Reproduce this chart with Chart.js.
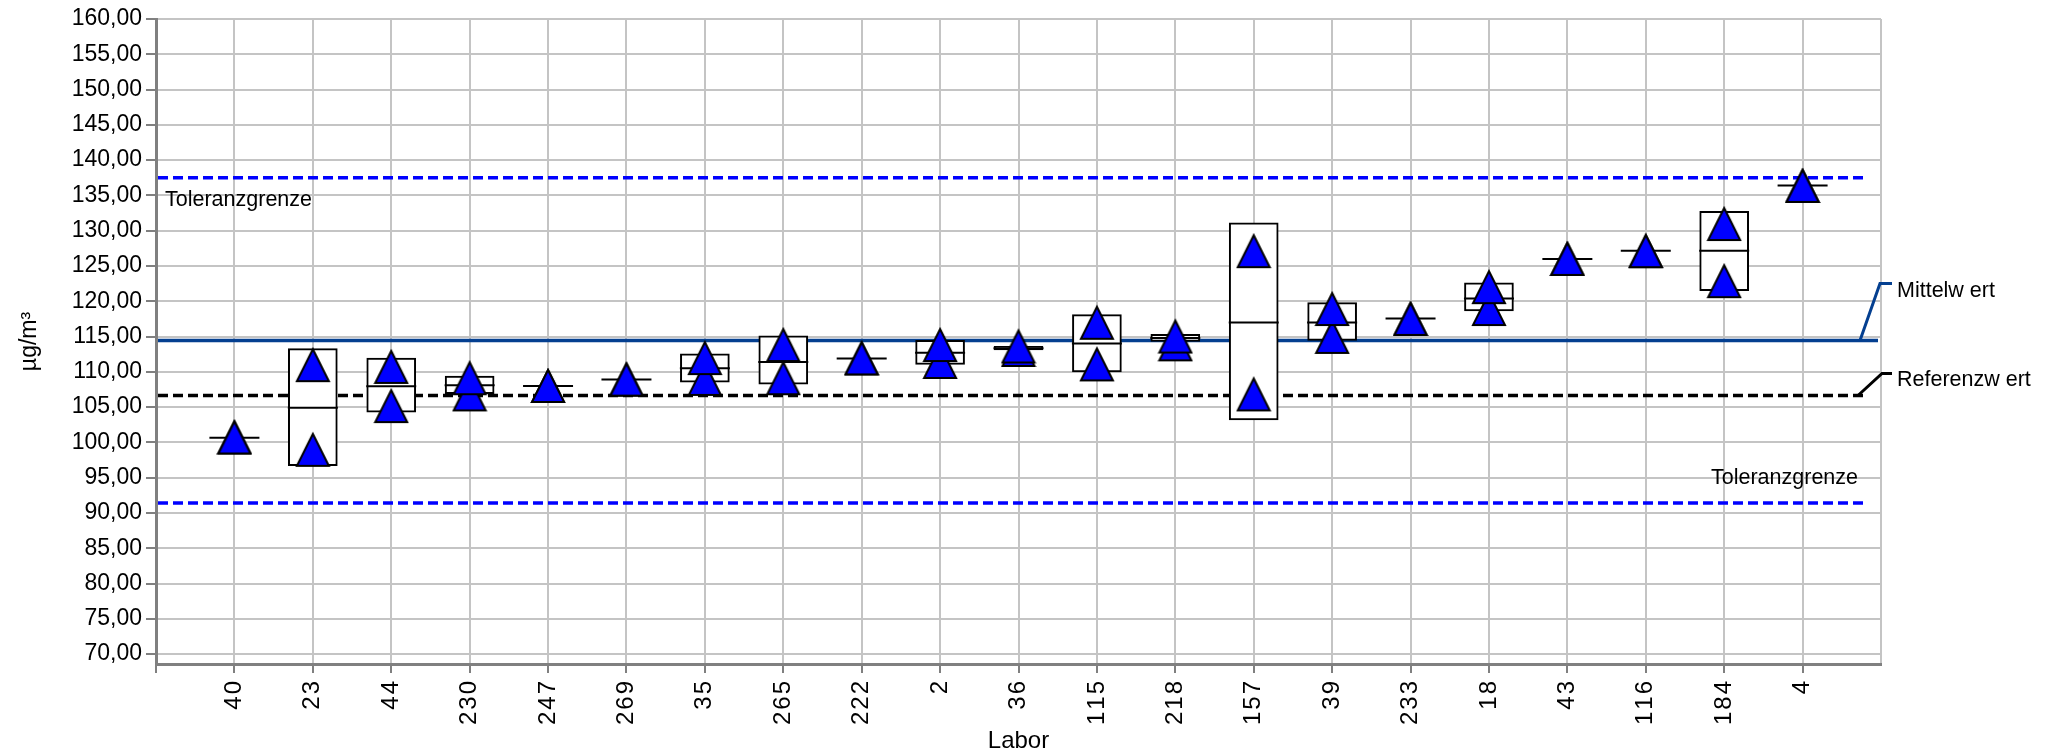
<!DOCTYPE html>
<html>
<head>
<meta charset="utf-8">
<script src="https://cdn.jsdelivr.net/npm/chart.js@4.4.0/dist/chart.umd.min.js"></script>
<style>
  html, body { margin: 0; padding: 0; background: #fff; }
</style>
</head>
<body>
<canvas id="myChart" width="2058" height="756"></canvas>
<script>
// Labore in der Reihenfolge der Achse
var labore = ['40', '23', '44', '230', '247', '269', '35', '265', '222', '2', '36',
              '115', '218', '157', '39', '233', '18', '43', '116', '184', '4'];

// Einzelwerte (zwei Messungen je Labor)
var wert1 = [100.7, 110.95, 110.7, 109.1, 108.0, 108.9, 111.95, 113.8, 111.9, 113.8, 113.6,
             116.95, 115.0, 127.1, 118.9, 117.5, 122.0, 126.0, 127.1, 130.95, 136.35];
var wert2 = [100.7, 98.95, 105.15, 106.8, 108.0, 108.9, 109.0, 109.1, 111.9, 111.4, 113.1,
             111.05, 113.9, 106.8, 114.95, 117.5, 118.9, 126.0, 127.1, 122.85, 136.35];

// Labormittel
var mittel = [100.65, 104.9, 107.95, 108.1, 108.0, 108.9, 110.5, 111.4, 111.9, 112.7, 113.35,
              114.0, 114.8, 117.0, 117.0, 117.55, 120.4, 126.0, 127.15, 127.15, 136.4];

// Kasten unten / oben (null = kein Kasten)
var boxUnten = [null, 96.7, 104.3, 106.9, null, null, 108.55, 108.25, null, 111.05, 113.1,
                110.0, 114.3, 103.2, 114.45, null, 118.65, null, null, 121.5, null];
var boxOben  = [null, 113.3, 111.95, 109.4, null, null, 112.55, 115.1, null, 114.45, 113.6,
                118.1, 115.3, 131.1, 119.8, null, 122.6, null, null, 132.75, null];

var toleranzOben = 137.5;
var mittelwert = 114.45;
var referenzwert = 106.65;
var toleranzUnten = 91.4;

var yMin = 68.6, yMax = 160, yStep = 5;

var schrift = 'Liberation Sans, Arial, sans-serif';

// Achse: leere Position links und rechts
var achse = [''].concat(labore).concat(['']);
function auffuellen(arr) { return [null].concat(arr).concat([null]); }

var kaesten = auffuellen(labore.map(function(l, i) {
  return boxUnten[i] === null ? null : [boxUnten[i], boxOben[i]];
}));

function dreieck() {
  var c = document.createElement('canvas');
  c.width = 36; c.height = 38;
  var g = c.getContext('2d');
  g.beginPath();
  g.moveTo(18, 3);
  g.lineTo(34, 35);
  g.lineTo(2, 35);
  g.closePath();
  g.fillStyle = '#0000ff';
  g.fill();
  g.lineWidth = 2;
  g.strokeStyle = '#000';
  g.stroke();
  return c;
}
var tri = dreieck();

var linienPlugin = {
  id: 'linien',
  beforeDatasetsDraw: function(chart) {
    var ctx = chart.ctx, a = chart.chartArea, ys = chart.scales.y;
    var yTo = ys.getPixelForValue(toleranzOben);
    var yTu = ys.getPixelForValue(toleranzUnten);
    var yM = ys.getPixelForValue(mittelwert);
    var yR = ys.getPixelForValue(referenzwert);
    ctx.save();

    // Toleranzgrenzen
    ctx.strokeStyle = '#0000ff';
    ctx.lineWidth = 3.5;
    ctx.setLineDash([10, 5]);
    [yTo, yTu].forEach(function(y) {
      ctx.beginPath(); ctx.moveTo(a.left + 2, y); ctx.lineTo(a.right - 13, y); ctx.stroke();
    });

    // Referenzwert
    ctx.strokeStyle = '#000';
    ctx.beginPath(); ctx.moveTo(a.left + 2, yR); ctx.lineTo(a.right - 13, yR); ctx.stroke();
    ctx.setLineDash([]);
    ctx.lineWidth = 3;
    ctx.beginPath(); ctx.moveTo(a.right - 23, yR); ctx.lineTo(a.right + 1, yR - 22); ctx.lineTo(a.right + 11, yR - 22); ctx.stroke();

    // Mittelwert
    ctx.strokeStyle = '#043f90';
    ctx.lineWidth = 3.5;
    ctx.beginPath(); ctx.moveTo(a.left + 2, yM); ctx.lineTo(a.right - 3, yM); ctx.stroke();
    ctx.lineWidth = 3;
    ctx.beginPath(); ctx.moveTo(a.right - 21, yM); ctx.lineTo(a.right - 1, yM - 57); ctx.lineTo(a.right + 11, yM - 57); ctx.stroke();

    // Beschriftungen
    ctx.fillStyle = '#000';
    ctx.font = '21.5px ' + schrift;
    ctx.textBaseline = 'middle';
    ctx.textAlign = 'left';
    ctx.fillText('Toleranzgrenze', a.left + 9, yTo + 22);
    ctx.fillText('Mittelw ert', a.right + 16, yM - 49);
    ctx.fillText('Referenzw ert', a.right + 16, yR - 15);
    ctx.textAlign = 'right';
    ctx.fillText('Toleranzgrenze', a.right - 23, yTu - 25);
    ctx.restore();
  }
};

var ctx = document.getElementById('myChart').getContext('2d');

var chart = new Chart(ctx, {
  type: 'bar',
  data: {
    labels: achse,
    datasets: [{
      type: 'line',
      label: 'Wert 1',
      data: auffuellen(wert1),
      showLine: false,
      pointStyle: tri,
      pointRadius: 16,
      order: 0
    }, {
      type: 'line',
      label: 'Wert 2',
      data: auffuellen(wert2),
      showLine: false,
      pointStyle: tri,
      pointRadius: 16,
      order: 0
    }, {
      type: 'line',
      label: 'Mittel',
      data: auffuellen(mittel),
      showLine: false,
      pointStyle: 'line',
      pointRadius: 25,
      pointBorderWidth: 2,
      pointBorderColor: '#000',
      order: 1
    }, {
      type: 'bar',
      label: 'Kasten',
      data: kaesten,
      backgroundColor: '#ffffff',
      borderColor: '#000',
      borderWidth: 2,
      borderSkipped: false,
      barThickness: 49,
      order: 2
    }]
  },
  plugins: [linienPlugin],
  options: {
    responsive: false,
    devicePixelRatio: 1,
    animation: false,
    layout: { autoPadding: false, padding: { left: 0, right: 177, top: 19, bottom: 0 } },
    plugins: { legend: { display: false }, tooltip: { enabled: false } },
    scales: {
      x: {
        type: 'category',
        offset: false,
        grid: {
          offset: false,
          color: '#c4c4c4',
          lineWidth: 2,
          tickLength: 9,
          tickColor: function(c) { return c.index === achse.length - 1 ? 'rgba(0,0,0,0)' : '#808080'; }
        },
        border: { color: '#808080', width: 3 },
        ticks: {
          autoSkip: false,
          minRotation: 90,
          maxRotation: 90,
          padding: 8,
          color: '#000',
          font: { family: schrift, size: 24 },
          callback: function(v, i) { return achse[i].split('').join('\u200A'); }
        },
        title: {
          display: true,
          text: 'Labor',
          color: '#000',
          font: { family: schrift, size: 24 },
          padding: { top: 0, bottom: 0 }
        },
        afterFit: function(s) { s.height = 92; }
      },
      y: {
        min: yMin,
        max: yMax,
        afterBuildTicks: function(s) {
          s.ticks = s.ticks.filter(function(t) { return Math.abs(t.value / yStep - Math.round(t.value / yStep)) < 1e-6; });
        },
        grid: { color: '#c4c4c4', lineWidth: 2, tickLength: 10, tickColor: '#808080' },
        border: { color: '#808080', width: 3 },
        ticks: {
          stepSize: yStep,
          includeBounds: false,
          padding: 4,
          color: '#000',
          font: { family: schrift, size: 23, lineHeight: 1 },
          callback: function(v) { return v.toFixed(2).replace('.', ','); }
        },
        title: {
          display: true,
          text: 'µg/m³',
          color: '#000',
          font: { family: schrift, size: 23 },
          padding: { top: 16, bottom: 0 }
        },
        afterFit: function(s) { s.width = 156; }
      }
    }
  }
});
</script>
</body>
</html>
